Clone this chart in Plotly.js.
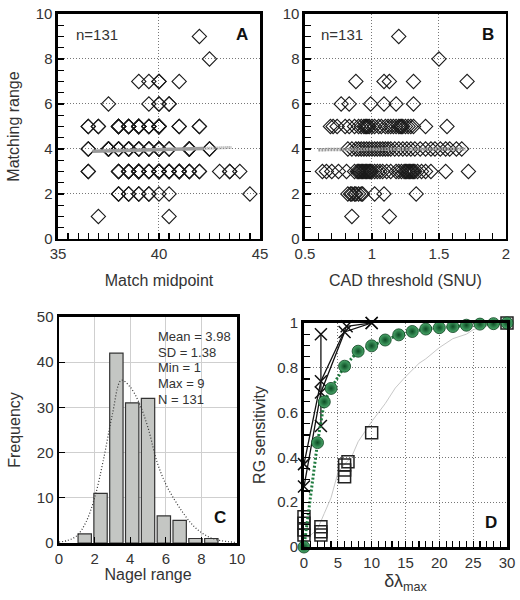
<!DOCTYPE html>
<html><head><meta charset="utf-8">
<script src="https://cdn.plot.ly/plotly-3.0.1.min.js"></script>
<style>html,body{margin:0;padding:0;background:#fff}#c{width:520px;height:600px}</style>
</head><body><div id="c"></div>
<script>
// ---------- Panel A: Match midpoint vs matching range ----------
const A_rows = [1,2,3,4,5,6,7,8,9];
const A_r1 = [37, 40.5];
const A_r2 = [38,38,38.5,38.5,39,39,39.5,39.5,40,40.5,44.5];
const A_r3 = [36.5,36.5,38,38,38,38.5,38.5,38.5,38.5,39,39,39,39,39,39,39.5,39.5,39.5,40,40,40,40,40,40,40.5,40.5,40.5,40.5,41,41,41,41,41,41.5,41.5,41.5,42,42,43,43.5,43.5,44];
const A_r4 = [36.5,36.5,37.5,37.5,37.5,37.5,38,38,38,38.5,38.5,38.5,38.5,39,39,39,39.5,39.5,39.5,40,40,40,40,40.5,40.5,41.5,41.5,41.5,41.5,42.5,42.5];
const A_r5 = [36.5,36.5,37,37,38,38,38,38,38,38.5,38.5,38.5,38.5,39,39,39,39,39,39,39.5,39.5,39.5,40,40,40,40,40,40,41,41,42,42];
const A_r6 = [37.5,39.5,40,40,40.5,40.5];
const A_r7 = [39,39.5,40,40,41];
const A_r8 = [42.5];
const A_r9 = [42];
const A_fitX = [36.7, 42.2];
const A_fitY = [3.9, 4.02];
const A_fitDotX = [42.2, 43.6];
const A_fitDotY = [4.02, 4.07];

// ---------- Panel B: CAD threshold vs matching range ----------
const B_r1 = [0.85,1.13];
const B_r2 = [0.82,0.84,0.85,0.87,0.88,0.90,0.92,0.93,1.02,1.09,1.33];
const B_r3 = [0.63,0.66,0.70,0.75,0.81,0.87,0.89,0.90,0.91,0.92,0.93,0.94,0.95,0.96,0.97,0.98,0.99,1.00,1.02,1.04,1.06,1.08,1.11,1.14,1.18,1.20,1.22,1.24,1.25,1.26,1.27,1.28,1.29,1.30,1.31,1.32,1.34,1.37,1.40,1.44,1.55,1.72];
const B_r4 = [0.82,0.85,0.88,0.90,0.92,0.94,0.96,0.98,1.00,1.02,1.04,1.06,1.08,1.10,1.12,1.14,1.17,1.20,1.23,1.26,1.29,1.32,1.36,1.40,1.44,1.47,1.51,1.55,1.58,1.63,1.67];
const B_r5 = [0.69,0.71,0.74,0.80,0.83,0.87,0.90,0.92,0.94,0.95,0.97,0.98,1.00,1.02,1.05,1.07,1.10,1.12,1.14,1.16,1.18,1.20,1.21,1.23,1.25,1.27,1.29,1.31,0.96,1.22,1.40,1.56];
const B_r6 = [0.77,0.83,0.99,1.09,1.18,1.31];
const B_r7 = [0.88,1.09,1.13,1.31,1.71];
const B_r8 = [1.5];
const B_r9 = [1.2];
const B_fitX = [0.6, 1.7];
const B_fitY = [3.97, 4.0];

// ---------- Panel C: histogram of Nagel range ----------
const C_binCenters = [1.444,2.333,3.222,4.111,5.0,5.889,6.778,7.667,8.556];
const C_counts = [2,11,42,31,32,6,5,1,1];
const C_curveX = [0,0.5,1,1.5,2,2.5,3,3.5,4,4.5,5,5.5,6,6.5,7,7.5,8,8.5,9,9.5,10];
const C_curveY = [0.2,0.6,1.6,4.5,10,18.5,28.5,36,34.5,31,25.5,18,13,9.5,6.5,4,2.3,1.2,0.6,0.3,0.1];
const C_stats = ["Mean = 3.98","SD = 1.38","Min = 1","Max = 9","N = 131"];

// ---------- Panel D: RG sensitivity ----------
const D_circX = [0,2,3,4,6,8,10,12,14,16,18,20,22,24,26,28,30];
const D_circY = [0,0.466,0.648,0.708,0.807,0.874,0.898,0.924,0.947,0.962,0.973,0.979,0.984,0.99,0.995,0.997,1.0];
const D_x1X = [0,2.5,6,10];
const D_x1Y = [0.27,0.69,0.96,1.0];
const D_x2X = [0,2.5,6.3,10];
const D_x2Y = [0.37,0.74,0.985,1.0];
const D_x3X = [2.5,2.5];
const D_x3Y = [0.54,0.95];
const D_sqX = [0,0,0,0,2.5,2.5,2.5,6,6,6,6.5,10,30];
const D_sqY = [0.135,0.106,0.076,0.054,0.09,0.068,0.054,0.366,0.344,0.314,0.381,0.51,1.0];
const D_grayX = [0.5,2,3,4,5,6,7,8,10,11,12,13.5,15,17,18,20,22,24,25,27.5,30];
const D_grayY = [0.04,0.08,0.15,0.22,0.33,0.37,0.4,0.47,0.56,0.6,0.64,0.71,0.76,0.82,0.84,0.89,0.93,0.95,0.97,0.99,1.0];

// ---------- build ----------
function rowsToXY(rows){
  const x=[],y=[];
  rows.forEach((r,i)=>{ r.forEach(v=>{ x.push(v); y.push(A_rows[i]); }); });
  return {x,y};
}
const Apts = rowsToXY([A_r1,A_r2,A_r3,A_r4,A_r5,A_r6,A_r7,A_r8,A_r9]);
const Bpts = rowsToXY([B_r1,B_r2,B_r3,B_r4,B_r5,B_r6,B_r7,B_r8,B_r9]);

const FONT = "Liberation Sans, Arial, sans-serif";
const diamond = {symbol:'diamond-open', size:11, color:'#1a1a1a', line:{width:1.1, color:'#1a1a1a'}};
const xMark = {symbol:'x-thin-open', size:12, line:{width:1.5,color:'#111'}};

const traces = [
  {type:'scatter', mode:'markers', x:Apts.x, y:Apts.y, xaxis:'x', yaxis:'y', marker:diamond, cliponaxis:false},
  {type:'scatter', mode:'lines', x:A_fitX, y:A_fitY, xaxis:'x', yaxis:'y', line:{color:'#9a9a9a', width:3.5}},
  {type:'scatter', mode:'lines', x:A_fitDotX, y:A_fitDotY, xaxis:'x', yaxis:'y', line:{color:'#9a9a9a', width:3, dash:'1px,1px'}},
  {type:'scatter', mode:'markers', x:Bpts.x, y:Bpts.y, xaxis:'x2', yaxis:'y2', marker:diamond, cliponaxis:false},
  {type:'scatter', mode:'lines', x:B_fitX, y:B_fitY, xaxis:'x2', yaxis:'y2', line:{color:'#9a9a9a', width:3.5, dash:'2px,1px'}},
  {type:'bar', x:C_binCenters, y:C_counts, xaxis:'x3', yaxis:'y3', width:0.75,
    marker:{color:'#c4c6c3', line:{color:'#333', width:1.2}}},
  {type:'scatter', mode:'lines', x:C_curveX, y:C_curveY, xaxis:'x3', yaxis:'y3', line:{color:'#333', width:1.2, dash:'1px,2px', shape:'spline'}},
  {type:'scatter', mode:'lines', x:D_grayX, y:D_grayY, xaxis:'x4', yaxis:'y4', line:{color:'#c8c8c8', width:1}},
  {type:'scatter', mode:'markers', x:D_sqX, y:D_sqY, xaxis:'x4', yaxis:'y4', cliponaxis:false,
    marker:{symbol:'square-open', size:12, color:'#222', line:{width:1.5,color:'#222'}}},
  {type:'scatter', mode:'lines+markers', x:D_x1X, y:D_x1Y, xaxis:'x4', yaxis:'y4', cliponaxis:false,
    line:{color:'#111', width:1.3}, marker:xMark},
  {type:'scatter', mode:'lines+markers', x:D_x2X, y:D_x2Y, xaxis:'x4', yaxis:'y4', cliponaxis:false,
    line:{color:'#111', width:1.3}, marker:xMark},
  {type:'scatter', mode:'lines+markers', x:D_x3X, y:D_x3Y, xaxis:'x4', yaxis:'y4', cliponaxis:false,
    line:{color:'#111', width:1.3}, marker:xMark},
  {type:'scatter', mode:'lines+markers', x:D_circX, y:D_circY, xaxis:'x4', yaxis:'y4', cliponaxis:false,
    line:{color:'#1e7a3e', width:3, dash:'2px,2px'},
    marker:{symbol:'circle', size:12, color:'#4aa96b', gradient:{type:'radial', color:'#0c4a23'}, line:{width:0.8, color:'#0b3f1d'}}},
];

function ax(o){
  return Object.assign({
    showline:true, mirror:true, linecolor:'#000', linewidth:2.5,
    ticks:'inside', ticklen:6, tickwidth:1.2, tickcolor:'#000',
    tickfont:{family:FONT, size:15, color:'#333'},
    gridcolor:'#777', griddash:'1px,2px', gridwidth:1,
    zeroline:false, fixedrange:true, automargin:false
  }, o);
}
const titleFont = {family:FONT, size:16, color:'#333'};
const minorT = (d)=>({dtick:d, ticks:'inside', ticklen:6, tickcolor:'#000', showgrid:false});

const statAnn = C_stats.map((t,i)=>({xref:'x3 domain', yref:'y3 domain', x:0.545, y:0.955 - i*0.069, text:t, showarrow:false,
  xanchor:'left', yanchor:'top', font:{family:FONT,size:13,color:'#333'}}));

const layout = {
  width:520, height:600, margin:{l:0,r:0,t:0,b:0},
  paper_bgcolor:'#fff', plot_bgcolor:'#fff', showlegend:false, font:{family:FONT},
  xaxis: ax({domain:[0.1115,0.5], anchor:'y', range:[35,45], dtick:5, tick0:35, minor:minorT(0.5),
    title:{text:'Match midpoint', font:titleFont, standoff:14}}),
  yaxis: ax({domain:[0.6017,0.9767], anchor:'x', range:[0,10], dtick:2, minor:minorT(0.5),
    title:{text:'Matching range', font:titleFont, standoff:12}}),
  xaxis2: ax({domain:[0.5865,0.973], anchor:'y2', range:[0.5,2], dtick:0.5, tick0:0.5, minor:minorT(0.1),
    title:{text:'CAD threshold (SNU)', font:titleFont, standoff:14}}),
  yaxis2: ax({domain:[0.6017,0.9767], anchor:'x2', range:[0,10], dtick:2, minor:minorT(0.5)}),
  xaxis3: ax({domain:[0.1135,0.4558], anchor:'y3', range:[0,10], dtick:2, griddash:'solid', gridcolor:'#cfcfcf',
    title:{text:'Nagel range', font:titleFont, standoff:2}}),
  yaxis3: ax({domain:[0.095,0.4717], anchor:'x3', range:[0,50], dtick:10, griddash:'solid', gridcolor:'#cfcfcf',
    title:{text:'Frequency', font:titleFont, standoff:12}}),
  xaxis4: ax({domain:[0.5846,0.975], anchor:'y4', range:[0,30], dtick:5, linewidth:3, minor:minorT(1),
    title:{text:'δλ<sub>max</sub>', font:{family:FONT, size:18, color:'#333'}, standoff:0}}),
  yaxis4: ax({domain:[0.0883,0.4617], anchor:'x4', range:[0,1], dtick:0.2, linewidth:3, minor:minorT(0.05),
    title:{text:'RG sensitivity', font:titleFont, standoff:8}}),
  annotations:[
    {xref:'x domain', yref:'y domain', x:0.08, y:0.907, text:'n=131', showarrow:false, xanchor:'left', yanchor:'middle', font:{family:FONT,size:15,color:'#333'}},
    {xref:'x domain', yref:'y domain', x:0.95, y:0.907, text:'<b>A</b>', showarrow:false, xanchor:'right', yanchor:'middle', font:{family:FONT,size:17,color:'#111'}},
    {xref:'x2 domain', yref:'y2 domain', x:0.07, y:0.907, text:'n=131', showarrow:false, xanchor:'left', yanchor:'middle', font:{family:FONT,size:15,color:'#333'}},
    {xref:'x2 domain', yref:'y2 domain', x:0.95, y:0.907, text:'<b>B</b>', showarrow:false, xanchor:'right', yanchor:'middle', font:{family:FONT,size:17,color:'#111'}},
    ...statAnn,
    {xref:'x3 domain', yref:'y3 domain', x:0.95, y:0.115, text:'<b>C</b>', showarrow:false, xanchor:'right', yanchor:'middle', font:{family:FONT,size:17,color:'#111'}},
    {xref:'x4 domain', yref:'y4 domain', x:0.96, y:0.11, text:'<b>D</b>', showarrow:false, xanchor:'right', yanchor:'middle', font:{family:FONT,size:17,color:'#111'}}
  ]
};
Plotly.newPlot('c', traces, layout, {staticPlot:true});
</script></body></html>
